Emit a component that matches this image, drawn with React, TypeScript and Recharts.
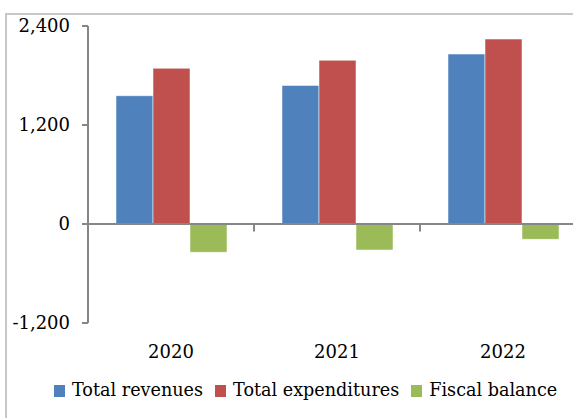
import { BarChart, Bar, XAxis, YAxis, ReferenceLine } from 'recharts';

const years = ['2020', '2021', '2022'];
const totalRevenues = [1555, 1680, 2060];
const totalExpenditures = [1887, 1984, 2242];
const fiscalBalance = [-343, -315, -186];
const yTicks = [-1200, 0, 1200, 2400];
const boundaries = ['2021', '2022'];

const data = years.map((year, i) => ({
  year,
  revenues: totalRevenues[i],
  expenditures: totalExpenditures[i],
  balance: fiscalBalance[i],
}));

const legendItems = [
  { label: 'Total revenues', color: '#4f81bd' },
  { label: 'Total expenditures', color: '#c0504d' },
  { label: 'Fiscal balance', color: '#9bbb59' },
];

const font = '"DejaVu Serif", serif';
const axisGray = '#868686';

const fmt = (v: number) => v.toLocaleString('en-US');

const LegendRow = () => (
  <div
    style={{
      position: 'absolute',
      left: 54,
      top: 380,
      display: 'flex',
      alignItems: 'center',
      fontFamily: font,
      fontSize: 17.6,
      color: '#000',
      whiteSpace: 'nowrap',
    }}
  >
    {legendItems.map((item) => (
      <div key={item.label} style={{ display: 'flex', alignItems: 'center', marginRight: 12 }}>
        <span style={{ width: 11, height: 12, background: item.color, marginRight: 7, marginTop: 2 }} />
        <span>{item.label}</span>
      </div>
    ))}
  </div>
);

export default function App() {
  return (
    <div
      style={{
        position: 'absolute',
        left: 0,
        top: 0,
        width: 573,
        height: 418,
        overflow: 'hidden',
        background: '#fff',
      }}
    >
      <div
        style={{
          position: 'absolute',
          left: 5,
          top: 13,
          width: 700,
          height: 500,
          borderLeft: '2px solid #c8c8c8',
          borderTop: '2px solid #c8c8c8',
        }}
      />
      <div style={{ position: 'absolute', left: 0, top: 0 }}>
        <BarChart
          width={600}
          height={418}
          data={data}
          margin={{ top: 26, right: 14, bottom: 0, left: 0 }}
          barGap={0}
          barCategoryGap={28}
        >
          <XAxis
            dataKey="year"
            axisLine={false}
            tickLine={false}
            tickSize={0}
            tickMargin={22}
            height={95}
            tick={{ fill: '#000', fontSize: 18, fontFamily: font }}
          />
          <YAxis
            domain={[-1200, 2400]}
            ticks={yTicks}
            width={88}
            tickFormatter={fmt}
            tickSize={6}
            tickMargin={12}
            axisLine={{ stroke: axisGray, strokeWidth: 2 }}
            tickLine={{ stroke: axisGray, strokeWidth: 2 }}
            tick={{ fill: '#000', fontSize: 18, fontFamily: font }}
            allowDataOverflow
          />
          <Bar dataKey="revenues" fill="#4f81bd" stroke="rgba(255,255,255,0.5)" strokeWidth={1} isAnimationActive={false} />
          <Bar dataKey="expenditures" fill="#c0504d" stroke="rgba(255,255,255,0.5)" strokeWidth={1} isAnimationActive={false} />
          <Bar dataKey="balance" fill="#9bbb59" stroke="rgba(255,255,255,0.5)" strokeWidth={1} isAnimationActive={false} />
          <ReferenceLine y={0} stroke={axisGray} strokeWidth={2} />
          {boundaries.map((b) => (
            <ReferenceLine
              key={b}
              segment={[{ x: b, y: 0 }, { x: b, y: -90 }]}
              position="start"
              stroke={axisGray}
              strokeWidth={2}
            />
          ))}
        </BarChart>
      </div>
      <LegendRow />
    </div>
  );
}
